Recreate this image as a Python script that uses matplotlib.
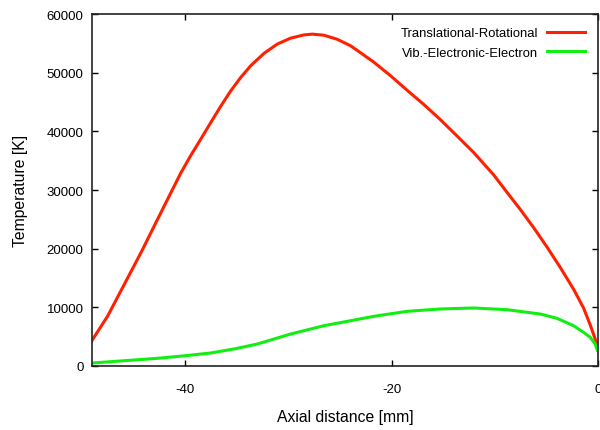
import matplotlib
matplotlib.use("Agg")
import matplotlib.pyplot as plt

# values
x_trans = [-49.0, -47.47, -45.86, -44.25, -42.64, -41.19, -40.39, -39.42,
           -38.45, -37.49, -36.52, -35.56, -34.59, -33.62, -32.34, -31.04, -29.76,
           -28.47, -27.66, -26.54, -25.25, -23.96, -23.31, -21.71, -20.10, -18.48,
           -16.88, -15.27, -13.65, -12.05, -10.12, -8.82, -7.54, -6.25,
           -4.96, -3.67, -2.39, -1.42, -0.77, -0.29, 0.0]
t_trans = [4300, 8500, 13900, 19300, 25000, 30100, 32900, 35900,
           38700, 41500, 44300, 46900, 49200, 51200, 53300, 54900, 55900,
           56450, 56580, 56400, 55700, 54600, 53800, 51800, 49500, 47000,
           44600, 42000, 39200, 36400, 32600, 29600, 26700, 23600,
           20300, 16800, 13120, 9900, 7000, 4600, 2800]

x_vib = [-49.0, -45.86, -42.64, -39.9, -37.49, -35.24, -32.98, -29.76,
         -26.54, -23.96, -21.71, -18.48, -15.27, -12.05, -8.82, -5.60, -3.99,
         -2.39, -1.42, -0.77, -0.29, -0.07, 0.0]
t_vib = [500, 900, 1310, 1760, 2220, 2900, 3750, 5450,
         6870, 7720, 8470, 9320, 9720, 9890, 9600, 8860, 8130,
         6870, 5740, 4890, 3750, 2610, 2500]

x_ticks = [-40, -20, 0]
x_labels = ['-40', '-20', '0']
y_ticks = [0, 10000, 20000, 30000, 40000, 50000, 60000]

plt.rcParams['font.family'] = ['Liberation Sans', 'DejaVu Sans']

fig, ax = plt.subplots(figsize=(6, 4.31), dpi=100)
fig.subplots_adjust(left=0.153, right=0.997, top=0.965, bottom=0.1485)

ax.plot(x_trans, t_trans, color='#ff2000', lw=2.2, solid_joinstyle='round',
        label='Translational-Rotational')
ax.plot(x_vib, t_vib, color='#11ee11', lw=2.2, solid_joinstyle='round',
        label='Vib.-Electronic-Electron')

ax.set_xlim(-49, 0)
ax.set_ylim(0, 60000)
ax.set_xticks(x_ticks)
ax.set_xticklabels(x_labels)
ax.set_yticks(y_ticks)
ax.tick_params(direction='in', top=True, right=True, length=4.5, width=1,
               labelsize=9.5)
ax.tick_params(axis='x', pad=12.5)
ax.tick_params(axis='y', pad=6)
for s in ax.spines.values():
    s.set_linewidth(1.2)
    s.set_color('#222222')

ax.set_xlabel('Axial distance [mm]', fontsize=11.3, labelpad=9.5)
ax.set_ylabel('Temperature [K]', fontsize=11.3, labelpad=13)

ax.legend(loc='upper right', frameon=False, markerfirst=False, fontsize=9.4,
          handlelength=2.9, handletextpad=0.7, labelspacing=0.55,
          borderaxespad=0.6)

fig.savefig('out.png', dpi=100)
